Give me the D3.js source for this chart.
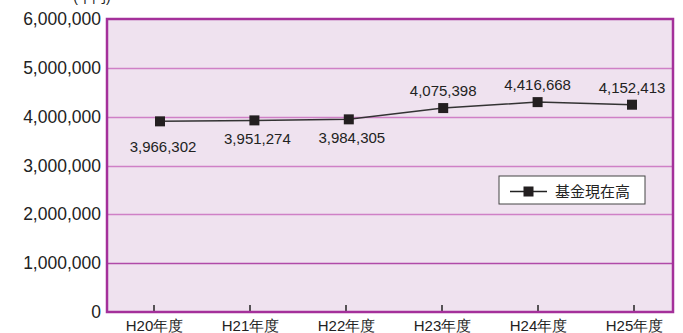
<!doctype html>
<html>
<head>
  <meta charset="utf-8">
  <title>基金現在高</title>
  <style>
    body { margin: 0; background: #fff; }
    svg { display: block; font-family: "Liberation Sans", Arial, "Noto Sans CJK JP", sans-serif; }
  </style>
</head>
<body>
  <div id="chart"></div>
  <script src="https://cdnjs.cloudflare.com/ajax/libs/d3/7.8.5/d3.min.js"></script>
  <script>
    // data
    const years = ['H20年度', 'H21年度', 'H22年度', 'H23年度', 'H24年度', 'H25年度'];
    const values = [3904000, 3924000, 3945000, 4176000, 4298000, 4245000];
    const valueLabels = ['3,966,302', '3,951,274', '3,984,305', '4,075,398', '4,416,668', '4,152,413'];
    const yTicks = [0, 1000000, 2000000, 3000000, 4000000, 5000000, 6000000];
    const seriesName = '基金現在高';
    const unitLabel = '(千円)';

    const width = 683, height = 333;
    const plot = { left: 107, right: 673, top: 19, bottom: 312 };

    const svg = d3.select('#chart').append('svg')
      .attr('width', width).attr('height', height);

    const y = d3.scaleLinear().domain([0, 6000000]).range([plot.bottom, plot.top]);
    // axis ticks and markers are slightly offset in the original
    const xAxisScale = d3.scalePoint().domain(years).range([154, 634]);
    const x = d3.scalePoint().domain(years).range([160, 632]);

    // unit text, mostly clipped at top like the original
    svg.append('text')
      .attr('x', 92).attr('y', 2)
      .attr('text-anchor', 'middle')
      .style('font-size', '14px').style('fill', '#222')
      .text(unitLabel);

    // plot background
    svg.append('rect')
      .attr('x', plot.left).attr('y', plot.top)
      .attr('width', plot.right - plot.left).attr('height', plot.bottom - plot.top)
      .style('fill', '#efe2ef');

    // grid lines
    svg.append('g').selectAll('line')
      .data(yTicks.filter(d => d > 0 && d < 6000000))
      .join('line')
      .attr('x1', plot.left).attr('x2', plot.right)
      .attr('y1', d => Math.round(y(d)) + 0.5).attr('y2', d => Math.round(y(d)) + 0.5)
      .style('stroke', d => d === 1000000 ? '#b04aa8' : '#cf80c6')
      .style('stroke-width', 1.3);

    // y axis labels
    const yAxis = d3.axisLeft(y).tickValues(yTicks).tickSize(0).tickPadding(6)
      .tickFormat(d3.format(','));
    svg.append('g')
      .attr('transform', `translate(${plot.left},0)`)
      .call(yAxis)
      .call(g => g.select('.domain').remove())
      .call(g => g.selectAll('text').style('font-size', '17.5px').style('fill', '#222')
        .style('font-family', '"Liberation Sans", Arial, sans-serif'));

    // x axis: small ticks pointing up into the plot, labels below
    const xAxis = d3.axisBottom(xAxisScale).tickSize(0).tickPadding(8);
    svg.append('g')
      .attr('transform', `translate(0,${plot.bottom})`)
      .call(xAxis)
      .call(g => g.select('.domain').remove())
      .call(g => g.selectAll('text').style('font-size', '15px').style('fill', '#222'));
    svg.append('g').selectAll('line')
      .data(years)
      .join('line')
      .attr('x1', d => xAxisScale(d)).attr('x2', d => xAxisScale(d))
      .attr('y1', plot.bottom - 1).attr('y2', plot.bottom - 7)
      .style('stroke', '#222').style('stroke-width', 1.5);

    // plot border
    svg.append('rect')
      .attr('x', plot.left).attr('y', plot.top)
      .attr('width', plot.right - plot.left).attr('height', plot.bottom - plot.top)
      .style('fill', 'none').style('stroke', '#a4309a').style('stroke-width', 2.5);

    // series line
    const line = d3.line().x((d, i) => x(years[i])).y(d => y(d));
    svg.append('path')
      .datum(values)
      .attr('d', line)
      .style('fill', 'none').style('stroke', '#333').style('stroke-width', 1.5);

    svg.append('g').selectAll('rect')
      .data(values)
      .join('rect')
      .attr('x', (d, i) => x(years[i]) - 5).attr('y', d => y(d) - 5)
      .attr('width', 10).attr('height', 10)
      .style('fill', '#231f20');

    // value labels: below for the first three, above for the rest
    svg.append('g').selectAll('text')
      .data(values)
      .join('text')
      .attr('x', (d, i) => x(years[i]) + (i < 3 ? 3 : 0))
      .attr('y', (d, i) => y(d) + (i === 0 ? 31 : i < 3 ? 24 : -12))
      .attr('text-anchor', 'middle')
      .style('font-size', '15px').style('fill', '#222')
      .text((d, i) => valueLabels[i]);

    // legend
    const legend = svg.append('g').attr('transform', 'translate(499,176)');
    legend.append('rect')
      .attr('x', 0).attr('y', 0).attr('width', 146).attr('height', 28)
      .style('fill', '#fff').style('stroke', '#444').style('stroke-width', 1);
    legend.append('line')
      .attr('x1', 11).attr('x2', 48).attr('y1', 15.5).attr('y2', 15.5)
      .style('stroke', '#222').style('stroke-width', 1.5);
    legend.append('rect')
      .attr('x', 24.5).attr('y', 10.5).attr('width', 10).attr('height', 10)
      .style('fill', '#231f20');
    legend.append('text')
      .attr('x', 56).attr('y', 21)
      .style('font-size', '15px').style('fill', '#222')
      .style('font-family', '"Noto Sans CJK JP", sans-serif')
      .text(seriesName);
  </script>
</body>
</html>
